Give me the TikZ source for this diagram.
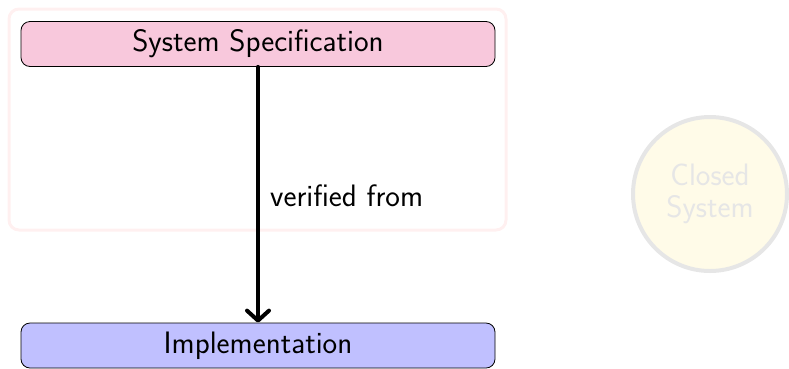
\documentclass[tikz,border=0pt]{standalone}
\usetikzlibrary{arrows.meta}
\definecolor{specpink}{RGB}{248,200,220}
\definecolor{implblue}{RGB}{192,192,255}
\definecolor{bgpink}{RGB}{255,240,240}
\definecolor{circfill}{RGB}{255,251,232}
\definecolor{circline}{RGB}{230,230,230}
\tikzset{
  boxnode/.style={draw=black, line width=0.8pt, rounded corners=9pt, minimum width=474pt, minimum height=45pt, inner sep=0pt, font=\sffamily\fontsize{31}{36}\selectfont},
  lbl/.style={font=\sffamily\fontsize{31}{36}\selectfont, inner sep=0pt},
}
\begin{document}
\begin{tikzpicture}[x=1pt,y=-1pt]
\useasboundingbox (0,0) rectangle (789,368);
\draw[bgpink, line width=3pt, rounded corners=10pt] (9,9) rectangle (506,230);
\node[boxnode, fill=specpink] (spec) at (258,44) {System Specification};
\node[boxnode, fill=implblue] (impl) at (258,345.5) {Implementation};
\draw[line width=4pt, line cap=round, -{Straight Barb[length=10pt,width=22pt,round]}] (spec.south) -- (impl.north);
\node[lbl, anchor=west] (vf) at (270,196) {verified from};
\node[circle, draw=circline, fill=circfill, line width=4pt, minimum size=154pt, align=center, text=circline, font=\sffamily\fontsize{31}{32}\selectfont] (cs) at (710,194) {Closed\\System};
\end{tikzpicture}
\end{document}
